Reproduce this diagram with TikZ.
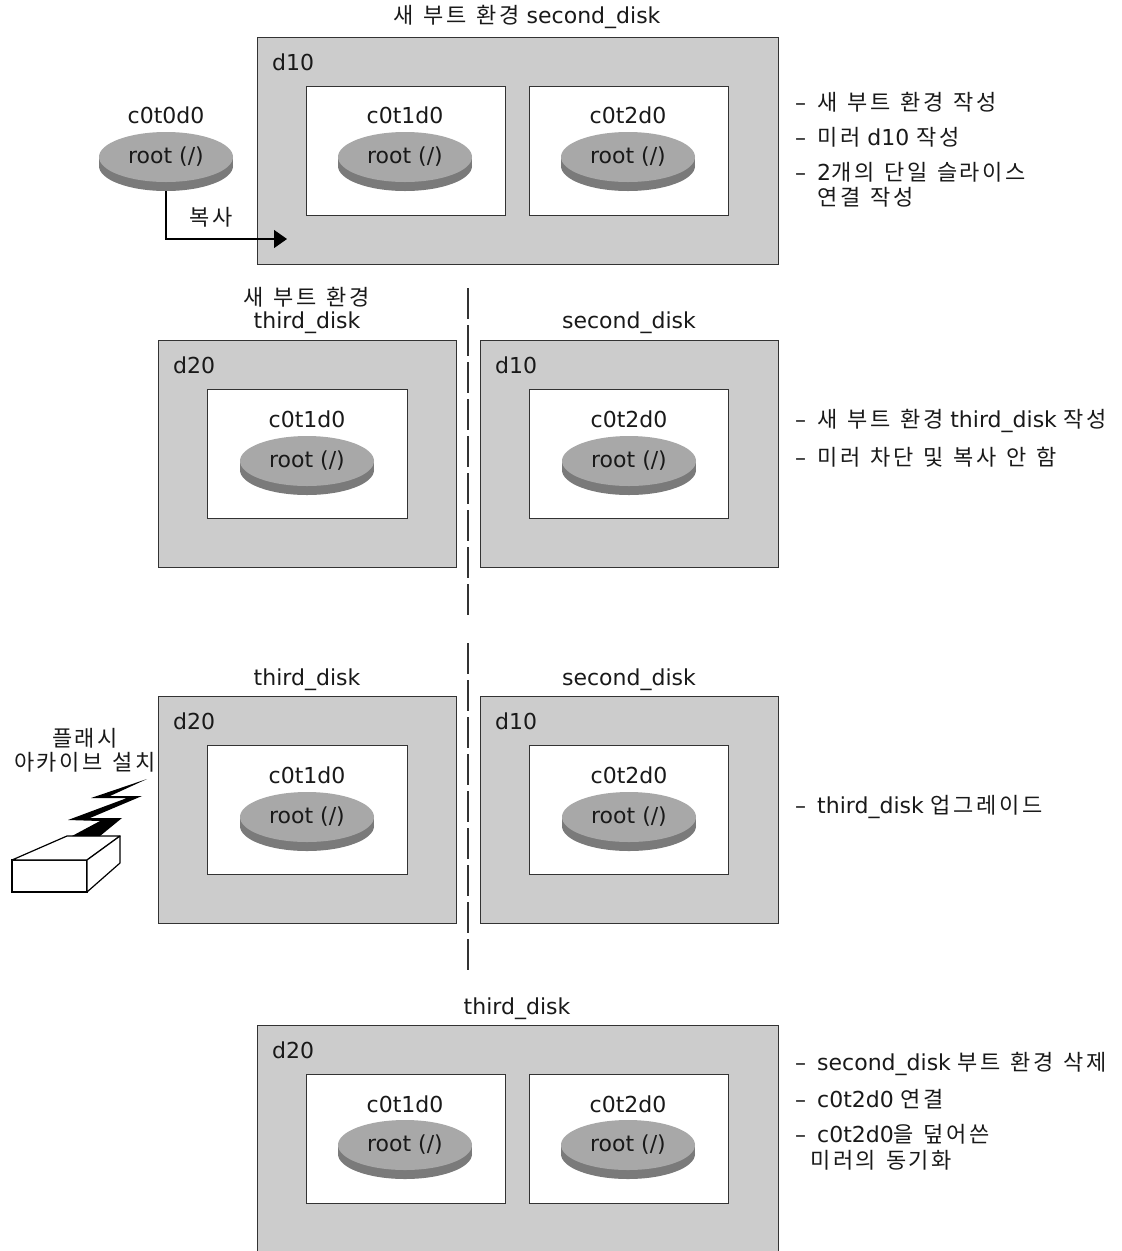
\documentclass[tikz,border=0pt]{standalone}
\usepackage{fontspec}
\setmainfont{DejaVu Sans}
\newfontfamily\kofont{Noto Sans CJK KR}[WordSpace=1.3, LetterSpace=12]
\newcommand\ko[1]{{\kofont #1}}
\newcommand\dashitem{\makebox[22pt][l]{--}}
\usetikzlibrary{arrows.meta,positioning}

\definecolor{boxgray}{HTML}{CCCCCC}
\definecolor{disktop}{HTML}{A8A8A8}
\definecolor{diskside}{HTML}{7A7A7A}
\definecolor{linegray}{HTML}{333333}

\tikzset{
    outerbox/.style={draw=linegray, line width=1.4pt, fill=boxgray, inner sep=0pt,
        minimum width=298pt, minimum height=227pt, anchor=north west},
    widebox/.style={outerbox, minimum width=521pt},
    innerbox/.style={draw=linegray, line width=1.4pt, fill=white, inner sep=0pt,
        minimum width=199pt, minimum height=129pt, anchor=north west},
    lbl/.style={font=\fontsize{22}{26}\selectfont, text=black!90, inner sep=0pt},
    note/.style={lbl, anchor=west},
    disk/.pic={
        \fill[diskside] (-67,0) rectangle (67,9);
        \fill[diskside] (0,9) ellipse [x radius=67pt, y radius=25pt];
        \fill[disktop] (0,0) ellipse [x radius=67pt, y radius=25pt];
        \node[lbl] (-txt) at (0,0) {root (/)};
        \coordinate (-bot) at (0,34);
    }
}

\begin{document}
\begin{tikzpicture}[x=1pt, y=-1pt]
    \useasboundingbox (0,0) rectangle (1122,1251);

    % row 1: new boot environment second_disk
    \node[lbl] (titleA) at (527,17) {\ko{새 부트 환경} second\_disk};
    \node[widebox] (envA) at (257,37) {};
    \node[lbl, anchor=west] (mirA) at (272,62) {d10};
    \node[innerbox] (sliceA1) at (306,86) {};
    \node[innerbox] (sliceA2) at (529,86) {};
    \node[lbl] (nameA0) at (166,115) {c0t0d0};
    \node[lbl] (nameA1) at (405,115) {c0t1d0};
    \node[lbl] (nameA2) at (628,115) {c0t2d0};
    \pic (diskA0) at (166,157) {disk};
    \pic (diskA1) at (405,157) {disk};
    \pic (diskA2) at (628,157) {disk};
    \coordinate (copyend) at (287,239);
    \draw[line width=1.3pt, -{Triangle[length=13pt, width=18pt]}] (diskA0-bot) |- (copyend);
    \node[lbl] (copy) at (211,217) {\ko{복사}};
    \node[note] (noteA1) at (795,102) {\dashitem\ko{새 부트 환경 작성}};
    \node[note] (noteA2) at (795,137) {\dashitem\ko{미러} d10 \ko{작성}};
    \node[note] (noteA3) at (795,172) {\dashitem 2\ko{개의 단일 슬라이스}};
    \node[note] (noteA4) at (817,197) {\ko{연결 작성}};

    % separator
    \draw[linegray, line width=1.8pt, dash pattern=on 31pt off 6pt] (468,288) -- (468,619);
    \draw[linegray, line width=1.8pt, dash pattern=on 31pt off 6pt] (468,643) -- (468,973);

    % row 2: third_disk created, mirror split
    \node[lbl] (titleB1) at (307,297) {\ko{새 부트 환경}};
    \node[lbl] (titleB2) at (307,323) {third\_disk};
    \node[lbl] (titleC) at (629,323) {second\_disk};
    \node[outerbox] (envB) at (158,340) {};
    \node[outerbox] (envC) at (480,340) {};
    \node[lbl, anchor=west] (mirB) at (173,365) {d20};
    \node[lbl, anchor=west] (mirC) at (495,365) {d10};
    \node[innerbox, minimum width=200pt] (sliceB) at (207,389) {};
    \node[innerbox] (sliceC) at (529,389) {};
    \node[lbl] (nameB) at (307,419) {c0t1d0};
    \node[lbl] (nameC) at (629,419) {c0t2d0};
    \pic (diskB) at (307,461) {disk};
    \pic (diskC) at (629,461) {disk};
    \node[note] (noteB1) at (795,421) {\dashitem\ko{새 부트 환경} third\_disk \ko{작성}};
    \node[note] (noteB2) at (795,457) {\dashitem\ko{미러 차단 및 복사 안 함}};

    % row 3: upgrade third_disk
    \node[lbl] (titleD) at (307,680) {third\_disk};
    \node[lbl] (titleE) at (629,680) {second\_disk};
    \node[outerbox] (envD) at (158,696) {};
    \node[outerbox] (envE) at (480,696) {};
    \node[lbl, anchor=west] (mirD) at (173,721) {d20};
    \node[lbl, anchor=west] (mirE) at (495,721) {d10};
    \node[innerbox, minimum width=200pt] (sliceD) at (207,745) {};
    \node[innerbox] (sliceE) at (529,745) {};
    \node[lbl] (nameD) at (307,775) {c0t1d0};
    \node[lbl] (nameE) at (629,775) {c0t2d0};
    \pic (diskD) at (307,817) {disk};
    \pic (diskE) at (629,817) {disk};
    \node[note] (noteD) at (795,807) {\dashitem third\_disk \ko{업그레이드}};
    \node[lbl] (flashA) at (85,738) {\ko{플래시}};
    \node[lbl] (flashB) at (85,762) {\ko{아카이브 설치}};
    % flash archive source
    \draw[line width=1.2pt, fill=white] (12,860) rectangle (87,892);
    \draw[line width=1.2pt, fill=white, line join=round] (12,860) -- (67,836) -- (120,836) -- (87,860) -- cycle;
    \draw[line width=1.2pt, fill=white, line join=round] (87,860) -- (120,836) -- (120,863) -- (87,892) -- cycle;
    \fill (147,779) -- (91,798) -- (127,798) -- (68,820) -- (100,821) -- (72,836)
        -- (100,836) -- (122,818) -- (90,818) -- (142,796) -- (110,796) -- cycle;

    % row 4: third_disk with both slices
    \node[lbl] (titleF) at (517,1009) {third\_disk};
    \node[widebox] (envF) at (257,1025) {};
    \node[lbl, anchor=west] (mirF) at (272,1050) {d20};
    \node[innerbox] (sliceF1) at (306,1074) {};
    \node[innerbox] (sliceF2) at (529,1074) {};
    \node[lbl] (nameF1) at (405,1104) {c0t1d0};
    \node[lbl] (nameF2) at (628,1104) {c0t2d0};
    \pic (diskF1) at (405,1145) {disk};
    \pic (diskF2) at (628,1145) {disk};
    \node[note] (noteF1) at (795,1064) {\dashitem second\_disk \ko{부트 환경 삭제}};
    \node[note] (noteF2) at (795,1099) {\dashitem c0t2d0 \ko{연결}};
    \node[note] (noteF3) at (795,1134) {\dashitem c0t2d0\ko{을 덮어쓴}};
    \node[note] (noteF4) at (810,1160) {\ko{미러의 동기화}};
\end{tikzpicture}
\end{document}
